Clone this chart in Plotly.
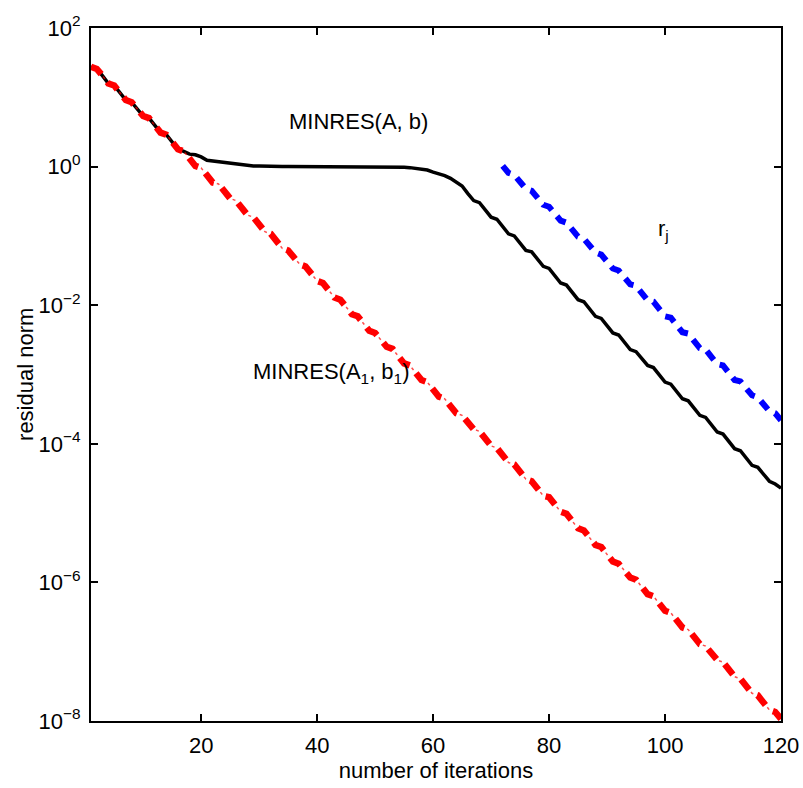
import plotly.graph_objects as go

# iteration numbers
iterations = list(range(1, 121))

# log10 of residual norm, MINRES(A, b) (black solid)
minres_A_b_log10 = [
    1.44, 1.41, 1.31, 1.20, 1.17, 1.07, 0.96, 0.93, 0.83, 0.73,
    0.70, 0.59, 0.49, 0.46, 0.35, 0.25, 0.22, 0.18, 0.17, 0.14,
    0.09, 0.08, 0.07, 0.05, 0.04, 0.03, 0.02, 0.015, 0.01, 0.01,
    0.005, 0.0, 0.0, 0.0, 0.0, 0.0, 0.0, 0.0, 0.0, 0.0,
    0.0, 0.0, 0.0, 0.0, 0.0, 0.0, 0.0, 0.0, 0.0, 0.0,
    -0.005, -0.005, -0.005, -0.005, -0.01, -0.015, -0.03, -0.04, -0.05, -0.08,
    -0.10, -0.13, -0.17, -0.23, -0.28, -0.39, -0.49, -0.52, -0.62, -0.73,
    -0.76, -0.86, -0.97, -1.00, -1.10, -1.21, -1.23, -1.34, -1.44, -1.47,
    -1.58, -1.68, -1.71, -1.82, -1.92, -1.95, -2.05, -2.16, -2.19, -2.29,
    -2.40, -2.43, -2.53, -2.64, -2.67, -2.77, -2.87, -2.90, -3.01, -3.11,
    -3.14, -3.25, -3.35, -3.38, -3.49, -3.59, -3.62, -3.72, -3.83, -3.86,
    -3.96, -4.07, -4.10, -4.20, -4.31, -4.34, -4.44, -4.54, -4.58, -4.64,
]

# log10 of residual norm, MINRES(A1, b1) (red dash-dot)
minres_A1_b1_log10 = [
    1.44, 1.41, 1.31, 1.20, 1.17, 1.07, 0.96, 0.93, 0.83, 0.73,
    0.70, 0.59, 0.49, 0.46, 0.35, 0.25, 0.22, 0.12, 0.01, -0.02,
    -0.12, -0.23, -0.25, -0.36, -0.46, -0.49, -0.60, -0.70, -0.73, -0.83,
    -0.94, -0.97, -1.07, -1.18, -1.21, -1.31, -1.41, -1.44, -1.55, -1.65,
    -1.68, -1.79, -1.89, -1.92, -2.02, -2.13, -2.16, -2.26, -2.37, -2.40,
    -2.50, -2.60, -2.63, -2.74, -2.84, -2.87, -2.98, -3.08, -3.11, -3.21,
    -3.32, -3.35, -3.45, -3.56, -3.59, -3.69, -3.79, -3.82, -3.93, -4.03,
    -4.06, -4.17, -4.27, -4.30, -4.40, -4.51, -4.54, -4.64, -4.75, -4.77,
    -4.88, -4.98, -5.01, -5.12, -5.22, -5.25, -5.35, -5.46, -5.49, -5.59,
    -5.70, -5.73, -5.83, -5.93, -5.96, -6.07, -6.17, -6.20, -6.31, -6.41,
    -6.44, -6.54, -6.65, -6.68, -6.78, -6.89, -6.92, -7.02, -7.12, -7.15,
    -7.26, -7.36, -7.39, -7.50, -7.60, -7.63, -7.73, -7.84, -7.87, -7.97,
]

# r_j (blue dashed), iterations 72..120
rj_iterations = list(range(72, 121))
rj_log10 = [
    0.01, -0.09, -0.12, -0.22, -0.32, -0.35, -0.45, -0.55, -0.58, -0.68,
    -0.78, -0.81, -0.91, -1.01, -1.04, -1.14, -1.24, -1.27, -1.37, -1.47,
    -1.50, -1.60, -1.70, -1.72, -1.83, -1.93, -1.95, -2.06, -2.16, -2.18,
    -2.29, -2.39, -2.41, -2.51, -2.62, -2.64, -2.74, -2.85, -2.87, -2.97,
    -3.08, -3.10, -3.20, -3.30, -3.33, -3.43, -3.53, -3.56, -3.66,
]

x_ticks = [20, 40, 60, 80, 100, 120]
y_exponents = [-8, -6, -4, -2, 0, 2]
y_tick_text = ["10<sup>%s</sup>" % (str(e).replace("-", "\u2212")) for e in y_exponents]


def from_log(vals):
    return [10 ** v for v in vals]


FONT = "Arial, Liberation Sans, Helvetica, sans-serif"
FS = 22

fig = go.Figure()
fig.add_trace(go.Scatter(x=iterations, y=from_log(minres_A_b_log10), mode="lines",
                         line=dict(color="black", width=3.5), showlegend=False))
fig.add_trace(go.Scatter(x=iterations, y=from_log(minres_A1_b1_log10), mode="lines",
                         line=dict(color="rgb(255,0,0)", width=6.5, dash="13px,10px"),
                         showlegend=False))
fig.add_trace(go.Scatter(x=iterations, y=from_log(minres_A1_b1_log10), mode="lines",
                         line=dict(color="rgba(255,0,0,0.7)", width=1.5, dash="0px,16px,3px,4px"),
                         showlegend=False))
fig.add_trace(go.Scatter(x=rj_iterations, y=from_log(rj_log10), mode="lines",
                         line=dict(color="rgb(0,0,255)", width=6, dash="11px,8px"),
                         showlegend=False))

axis_common = dict(showgrid=False, zeroline=False, showline=True, linecolor="black",
                   linewidth=2, mirror="ticks", ticks="inside", ticklen=7, tickwidth=1.5,
                   tickcolor="black", automargin=False,
                   tickfont=dict(family=FONT, size=FS, color="black"))

fig.update_xaxes(range=[1, 120], tickvals=x_ticks, ticklabelstandoff=4,
                 title=dict(text="number of iterations", font=dict(family=FONT, size=FS, color="black"),
                            standoff=5),
                 **axis_common)
fig.update_yaxes(type="log", range=[-8, 2], tickvals=[10 ** e for e in y_exponents],
                 ticktext=y_tick_text, ticklabelstandoff=4,
                 **axis_common)

ann_font = dict(family=FONT, size=FS, color="black")
# y-axis title
fig.add_annotation(xref="paper", yref="paper", x=-0.095, y=0.5, text="residual norm",
                   textangle=-90, showarrow=False, font=ann_font, xanchor="center", yanchor="middle")
fig.add_annotation(x=47.1, y=0.644, text="MINRES(A, b)", showarrow=False, font=ann_font)
fig.add_annotation(x=42.4, y=-2.98, text="MINRES(A<sub>1</sub>, b<sub>1</sub>)", showarrow=False,
                   font=ann_font)
fig.add_annotation(x=99.7, y=-0.92, text="r<sub>j</sub>", showarrow=False, font=ann_font)

fig.update_layout(width=803, height=788, margin=dict(l=91, r=22, t=28, b=67),
                  paper_bgcolor="white", plot_bgcolor="white",
                  font=dict(family=FONT, size=FS, color="black"))

# remove the page's default body margin so the figure fills the window exactly
fig.write_html("out.html", config={"displayModeBar": False},
               post_script="document.body.style.margin='0';")
